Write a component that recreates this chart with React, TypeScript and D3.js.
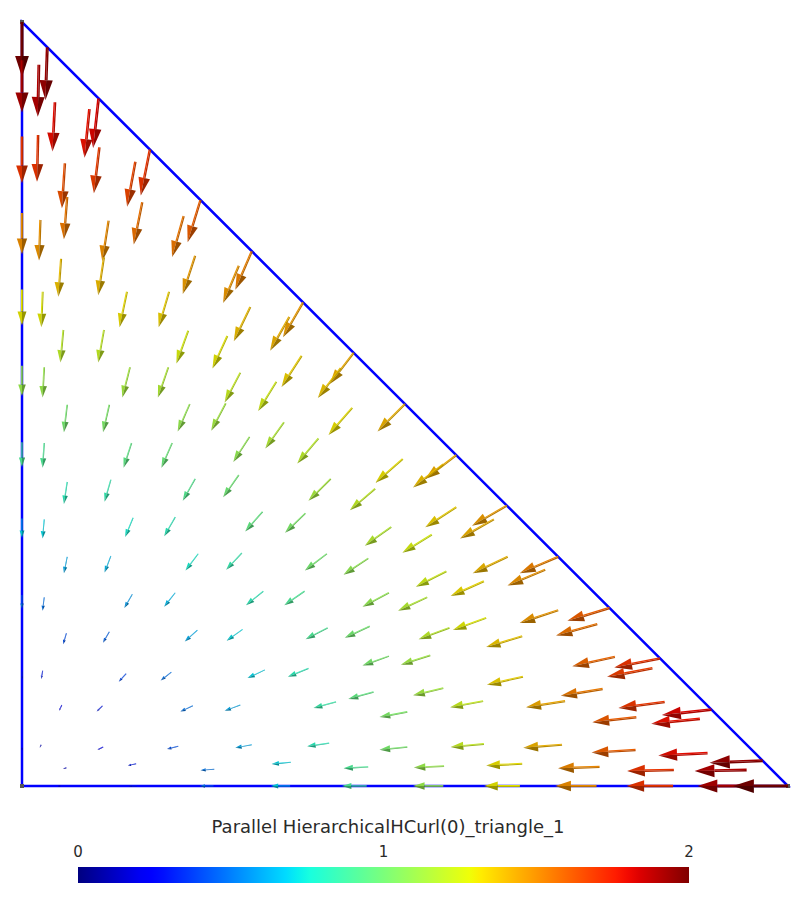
import React from 'react';
import * as d3 from 'd3';

const W = 805;
const H = 903;

// [x, y, u, v] in reference coordinates (x right, y up)
const leftEdge: number[][] = [
  [0, 1, 0, -2], [0, 0.95, 0, -1.9], [0, 0.85, 0, -1.7], [0, 0.75, 0, -1.5], [0, 0.65, 0, -1.3],
  [0, 0.55, 0, -1.1], [0, 0.45, 0, -0.9], [0, 0.35, 0, -0.7], [0, 0.25, 0, -0.5], [0, 0.15, 0, -0.3],
  [0, 0.05, 0, -0.1],
];

const bottomEdge: number[][] = [
  [0.05, 0, -0.1, 0], [0.15, 0, -0.3, 0], [0.25, 0, -0.5, 0], [0.35, 0, -0.7, 0], [0.45, 0, -0.9, 0],
  [0.55, 0, -1.1, 0], [0.65, 0, -1.3, 0], [0.75, 0, -1.5, 0], [0.85, 0, -1.7, 0], [0.95, 0, -1.9, 0],
  [1, 0, -2, 0],
];

const hypotenuse: number[][] = [
  [0.033, 0.967, -0.067, -1.933], [0.1, 0.9, -0.2, -1.8], [0.167, 0.833, -0.333, -1.667],
  [0.233, 0.767, -0.467, -1.533], [0.3, 0.7, -0.6, -1.4], [0.367, 0.633, -0.733, -1.267],
  [0.433, 0.567, -0.867, -1.133], [0.5, 0.5, -1, -1], [0.567, 0.433, -1.133, -0.867],
  [0.633, 0.367, -1.267, -0.733], [0.7, 0.3, -1.4, -0.6], [0.767, 0.233, -1.533, -0.467],
  [0.833, 0.167, -1.667, -0.333], [0.9, 0.1, -1.8, -0.2], [0.967, 0.033, -1.933, -0.067],
];

const interiorTop: number[][] = [
  [0.022, 0.944, -0.04, -1.89], [0.043, 0.895, -0.09, -1.79], [0.088, 0.886, -0.18, -1.77],
  [0.101, 0.836, -0.2, -1.67], [0.021, 0.852, -0.04, -1.7], [0.056, 0.815, -0.11, -1.63],
  [0.148, 0.817, -0.3, -1.63], [0.211, 0.746, -0.42, -1.49], [0.059, 0.771, -0.12, -1.54],
  [0.024, 0.741, -0.05, -1.48], [0.113, 0.74, -0.23, -1.48], [0.157, 0.764, -0.31, -1.53],
  [0.051, 0.69, -0.1, -1.38], [0.107, 0.692, -0.21, -1.38], [0.226, 0.694, -0.45, -1.39],
  [0.283, 0.681, -0.57, -1.36],
];

const interiorUpper: number[][] = [
  [0.027, 0.647, -0.05, -1.29], [0.054, 0.597, -0.11, -1.19], [0.107, 0.597, -0.21, -1.19],
  [0.137, 0.647, -0.27, -1.29], [0.192, 0.647, -0.38, -1.29], [0.217, 0.596, -0.43, -1.19],
  [0.268, 0.589, -0.54, -1.18], [0.298, 0.627, -0.6, -1.25], [0.029, 0.548, -0.06, -1.1],
  [0.141, 0.548, -0.28, -1.1], [0.191, 0.548, -0.38, -1.1], [0.285, 0.541, -0.57, -1.08],
  [0.059, 0.499, -0.12, -1], [0.114, 0.499, -0.23, -1], [0.219, 0.5, -0.44, -1],
  [0.266, 0.501, -0.53, -1], [0.029, 0.449, -0.06, -0.9], [0.143, 0.449, -0.29, -0.9],
  [0.196, 0.449, -0.39, -0.9], [0.297, 0.457, -0.59, -0.91], [0.059, 0.398, -0.12, -0.8],
  [0.116, 0.401, -0.23, -0.8], [0.226, 0.402, -0.45, -0.8], [0.283, 0.407, -0.57, -0.81],
  [0.029, 0.349, -0.06, -0.7], [0.145, 0.351, -0.29, -0.7], [0.2, 0.352, -0.4, -0.7],
  [0.314, 0.359, -0.63, -0.72],
];

const interiorLowerLeft: number[][] = [
  [0.059, 0.3, -0.12, -0.6], [0.116, 0.301, -0.23, -0.6], [0.23, 0.304, -0.46, -0.61],
  [0.287, 0.305, -0.57, -0.61], [0.029, 0.247, -0.06, -0.49], [0.144, 0.251, -0.29, -0.5],
  [0.2, 0.253, -0.4, -0.51], [0.315, 0.255, -0.63, -0.51], [0.058, 0.2, -0.12, -0.4],
  [0.114, 0.202, -0.23, -0.4], [0.229, 0.204, -0.46, -0.41], [0.288, 0.205, -0.58, -0.41],
  [0.027, 0.151, -0.05, -0.3], [0.136, 0.147, -0.27, -0.29], [0.195, 0.149, -0.39, -0.3],
  [0.317, 0.152, -0.63, -0.3], [0.052, 0.106, -0.1, -0.21], [0.105, 0.105, -0.21, -0.21],
  [0.223, 0.105, -0.45, -0.21], [0.285, 0.106, -0.57, -0.21], [0.025, 0.054, -0.05, -0.11],
  [0.106, 0.051, -0.21, -0.1], [0.204, 0.052, -0.41, -0.1], [0.3, 0.054, -0.6, -0.11],
  [0.058, 0.024, -0.12, -0.05], [0.149, 0.029, -0.3, -0.06], [0.251, 0.022, -0.5, -0.04],
];

const interiorCenter: number[][] = [
  [0.398, 0.304, -0.8, -0.61], [0.452, 0.298, -0.9, -0.6], [0.634, 0.3, -1.27, -0.6],
  [0.554, 0.281, -1.11, -0.56], [0.603, 0.268, -1.21, -0.54], [0.482, 0.339, -0.96, -0.68],
  [0.535, 0.329, -1.07, -0.66], [0.369, 0.255, -0.74, -0.51], [0.479, 0.253, -0.96, -0.51],
  [0.529, 0.247, -1.06, -0.49], [0.399, 0.207, -0.8, -0.41], [0.454, 0.209, -0.91, -0.42],
  [0.606, 0.22, -1.21, -0.44], [0.558, 0.207, -1.12, -0.41], [0.653, 0.196, -1.31, -0.39],
  [0.374, 0.154, -0.75, -0.31], [0.479, 0.17, -0.96, -0.34], [0.533, 0.171, -1.07, -0.34],
  [0.41, 0.11, -0.82, -0.22], [0.459, 0.123, -0.92, -0.25], [0.55, 0.128, -1.1, -0.26],
  [0.654, 0.143, -1.31, -0.29], [0.503, 0.097, -1.01, -0.19], [0.602, 0.111, -1.2, -0.22],
  [0.401, 0.056, -0.8, -0.11], [0.503, 0.051, -1.01, -0.1], [0.603, 0.055, -1.21, -0.11],
  [0.351, 0.031, -0.7, -0.06], [0.452, 0.025, -0.9, -0.05], [0.551, 0.026, -1.1, -0.05],
  [0.653, 0.029, -1.31, -0.06],
];

const interiorLowerRight: number[][] = [
  [0.683, 0.283, -1.37, -0.57], [0.751, 0.212, -1.5, -0.42], [0.7, 0.23, -1.4, -0.46],
  [0.823, 0.154, -1.65, -0.31], [0.774, 0.169, -1.55, -0.34], [0.758, 0.127, -1.52, -0.25],
  [0.709, 0.111, -1.42, -0.22], [0.885, 0.088, -1.77, -0.18], [0.839, 0.11, -1.68, -0.22],
  [0.802, 0.09, -1.6, -0.18], [0.705, 0.054, -1.41, -0.11], [0.801, 0.047, -1.6, -0.09],
  [0.895, 0.043, -1.79, -0.09], [0.946, 0.021, -1.89, -0.04], [0.754, 0.025, -1.51, -0.05],
  [0.851, 0.021, -1.7, -0.04],
];

const interiorDiagonal: number[][] = [
  [0.349, 0.614, -0.7, -1.23], [0.365, 0.563, -0.73, -1.13], [0.416, 0.547, -0.83, -1.09],
  [0.332, 0.529, -0.66, -1.06], [0.431, 0.495, -0.86, -0.99], [0.342, 0.476, -0.68, -0.95],
  [0.387, 0.455, -0.77, -0.91], [0.497, 0.428, -0.99, -0.86], [0.55, 0.421, -1.1, -0.84],
  [0.403, 0.402, -0.81, -0.8], [0.461, 0.389, -0.92, -0.78], [0.616, 0.349, -1.23, -0.7],
  [0.567, 0.365, -1.13, -0.73], [0.37, 0.357, -0.74, -0.71],
];

const triangleVertices: number[][] = [[0, 0], [1, 0], [0, 1]];
const colorTicks: number[] = [0, 1, 2];
const colorDomain: number[] = [0, 2];
const title = 'Parallel HierarchicalHCurl(0)_triangle_1';

// jet colormap
const jetR = d3.scaleLinear().domain([0, 0.35, 0.66, 0.89, 1]).range([0, 0, 1, 1, 0.5]).clamp(true);
const jetG = d3.scaleLinear().domain([0, 0.125, 0.375, 0.64, 0.91, 1]).range([0, 0, 1, 1, 0, 0]).clamp(true);
const jetB = d3.scaleLinear().domain([0, 0.11, 0.34, 0.65, 1]).range([0.5, 1, 1, 0, 0]).clamp(true);
const jet = (t: number) => d3.rgb(jetR(t) * 255, jetG(t) * 255, jetB(t) * 255);

export default function App() {
  const x = d3.scaleLinear().domain([0, 1]).range([22, 788]);
  const y = d3.scaleLinear().domain([0, 1]).range([786, 22]);
  const len = d3.scaleLinear().domain([0, 2]).range([0, 55]);
  const cnorm = d3.scaleLinear().domain(colorDomain).range([0, 1]).clamp(true);
  const cbX = d3.scaleLinear().domain(colorDomain).range([78, 689]);

  const all = [
    ...leftEdge, ...bottomEdge, ...hypotenuse, ...interiorTop, ...interiorUpper,
    ...interiorLowerLeft, ...interiorCenter, ...interiorLowerRight, ...interiorDiagonal,
  ];

  const pt = (a: number[]) => a.map((v) => v.toFixed(2)).join(',');

  const arrows = all.map((d, i) => {
    const [px, py, u, v] = d;
    const mag = Math.hypot(u, v);
    if (mag < 1e-6) return null;
    const L = len(mag);
    const dx = u / mag;
    const dy = -v / mag;
    const nx = -dy;
    const ny = dx;
    const x0 = x(px);
    const y0 = y(py);
    const tx = x0 + dx * L;
    const ty = y0 + dy * L;
    const hl = 0.38 * L;
    const hw = 0.125 * L;
    const sw = Math.max(0.5, 0.028 * L);
    const bx = tx - dx * hl;
    const by = ty - dy * hl;
    const c = jet(cnorm(mag));
    const shaftLight = c.darker(0.25).formatRgb();
    const shaftDark = c.darker(0.9).formatRgb();
    const headLight = c.darker(0.45).formatRgb();
    const headDark = c.darker(1.4).formatRgb();
    const shaftA = [x0 + nx * sw, y0 + ny * sw, bx + nx * sw, by + ny * sw, bx, by, x0, y0];
    const shaftB = [x0, y0, bx, by, bx - nx * sw, by - ny * sw, x0 - nx * sw, y0 - ny * sw];
    const headA = [tx, ty, bx + nx * hw, by + ny * hw, bx, by];
    const headB = [tx, ty, bx, by, bx - nx * hw, by - ny * hw];
    const toPts = (arr: number[]) => {
      const out: string[] = [];
      for (let k = 0; k < arr.length; k += 2) out.push(pt([arr[k], arr[k + 1]]));
      return out.join(' ');
    };
    return (
      <g key={i}>
        <polygon points={toPts(shaftA)} fill={shaftLight} />
        <polygon points={toPts(shaftB)} fill={shaftDark} />
        <polygon points={toPts(headA)} fill={headLight} />
        <polygon points={toPts(headB)} fill={headDark} />
      </g>
    );
  });

  const triPath = d3.line()(triangleVertices.map((p) => [x(p[0]), y(p[1])] as [number, number])) + 'Z';

  const gradStops = d3.range(0, 1.0001, 0.02).map((t) => (
    <stop key={t} offset={`${(t * 100).toFixed(1)}%`} stopColor={jet(t).formatRgb()} />
  ));

  return (
    <svg width={W} height={H} style={{ position: 'absolute', left: 0, top: 0, background: '#fff' }}
      fontFamily="'DejaVu Sans', sans-serif">
      <defs>
        <linearGradient id="jetGrad" x1="0" x2="1" y1="0" y2="0">{gradStops}</linearGradient>
      </defs>
      <rect x={0} y={0} width={W} height={H} fill="#fff" />
      <path d={triPath} fill="none" stroke="#0000ff" strokeWidth={2.5} />
      {triangleVertices.map((p, i) => (
        <rect key={i} x={x(p[0]) - 2} y={y(p[1]) - 2} width={4} height={4} fill="#555" />
      ))}
      <g>{arrows}</g>
      <text x={388} y={833} textAnchor="middle" fontSize={18} fill="#2a2a2a">{title}</text>
      {colorTicks.map((t) => (
        <text key={t} x={cbX(t)} y={857} textAnchor="middle" fontSize={15} fill="#2a2a2a">{t}</text>
      ))}
      <rect x={cbX(colorDomain[0])} y={867} width={cbX(colorDomain[1]) - cbX(colorDomain[0])} height={16} fill="url(#jetGrad)" />
    </svg>
  );
}
